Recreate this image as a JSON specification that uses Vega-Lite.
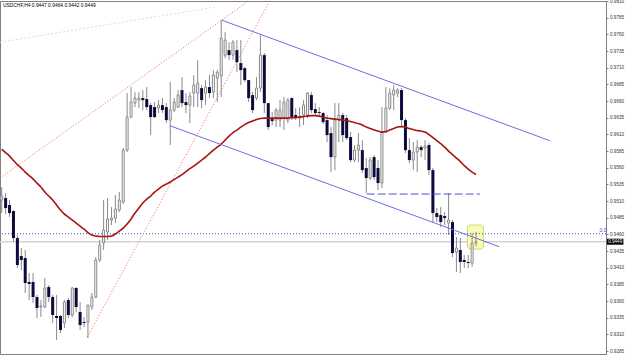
{
  "$schema": "https://vega.github.io/schema/vega-lite/v6.json",
  "width": 606,
  "height": 353,
  "autosize": {"type": "none"},
  "padding": {"left": 0, "top": 1, "right": 19, "bottom": 2},
  "background": "#ffffff",
  "config": {"view": {"stroke": "#808080", "strokeWidth": 1}, "axis": {"labelOverlap": false, "labelBound": false, "labelSeparation": 0}},
  "title": {"text": "USDCHF,H4  0.9447 0.9464 0.9442 0.9449", "anchor": "start", "frame": "group", "orient": "top", "offset": -11, "dx": 3, "dy": 2, "fontSize": 4.9, "fontWeight": "normal", "font": "Liberation Sans", "color": "#000000", "baseline": "middle"},
  "datasets": {
    "bars": [
      {"i":0,"o":0.95115,"h":0.95310,"l":0.94920,"c":0.95175,"ma":0.95880},
      {"i":1,"o":0.95145,"h":0.95220,"l":0.94905,"c":0.94995,"ma":0.958275},
      {"i":2,"o":0.95040,"h":0.95115,"l":0.94860,"c":0.94920,"ma":0.95775},
      {"i":3,"o":0.94950,"h":0.94965,"l":0.94485,"c":0.94545,"ma":0.957075},
      {"i":4,"o":0.94545,"h":0.94590,"l":0.94095,"c":0.94140,"ma":0.956475},
      {"i":5,"o":0.94275,"h":0.94395,"l":0.94065,"c":0.94215,"ma":0.95595},
      {"i":6,"o":0.94245,"h":0.94365,"l":0.93720,"c":0.93870,"ma":0.95535},
      {"i":7,"o":0.93885,"h":0.94020,"l":0.93615,"c":0.93855,"ma":0.954825},
      {"i":8,"o":0.93885,"h":0.94020,"l":0.93570,"c":0.93660,"ma":0.95430},
      {"i":9,"o":0.93660,"h":0.93690,"l":0.93345,"c":0.93495,"ma":0.95370},
      {"i":10,"o":0.93510,"h":0.93615,"l":0.93360,"c":0.93525,"ma":0.95310},
      {"i":11,"o":0.93510,"h":0.93945,"l":0.93495,"c":0.93795,"ma":0.95235},
      {"i":12,"o":0.93810,"h":0.93840,"l":0.93585,"c":0.93660,"ma":0.95175},
      {"i":13,"o":0.93660,"h":0.93690,"l":0.93270,"c":0.93390,"ma":0.95115},
      {"i":14,"o":0.93375,"h":0.93690,"l":0.93015,"c":0.93345,"ma":0.95040},
      {"i":15,"o":0.93375,"h":0.93390,"l":0.93120,"c":0.93165,"ma":0.94965},
      {"i":16,"o":0.93270,"h":0.93615,"l":0.93195,"c":0.93585,"ma":0.94905},
      {"i":17,"o":0.93615,"h":0.93645,"l":0.93345,"c":0.93390,"ma":0.94860},
      {"i":18,"o":0.93390,"h":0.93810,"l":0.93360,"c":0.93795,"ma":0.94815},
      {"i":19,"o":0.93795,"h":0.93810,"l":0.93435,"c":0.93510,"ma":0.94770},
      {"i":20,"o":0.93435,"h":0.93585,"l":0.93165,"c":0.93240,"ma":0.94725},
      {"i":21,"o":0.93285,"h":0.93360,"l":0.93210,"c":0.93270,"ma":0.94680},
      {"i":22,"o":0.93285,"h":0.93540,"l":0.93045,"c":0.93540,"ma":0.946275},
      {"i":23,"o":0.93510,"h":0.93720,"l":0.93465,"c":0.93660,"ma":0.94590},
      {"i":24,"o":0.93660,"h":0.94260,"l":0.93645,"c":0.94215,"ma":0.94575},
      {"i":25,"o":0.94215,"h":0.94515,"l":0.94185,"c":0.94440,"ma":0.945675},
      {"i":26,"o":0.94470,"h":0.95115,"l":0.94365,"c":0.94665,"ma":0.945675},
      {"i":27,"o":0.94635,"h":0.95145,"l":0.94515,"c":0.94830,"ma":0.945675},
      {"i":28,"o":0.94815,"h":0.95010,"l":0.94740,"c":0.94845,"ma":0.94575},
      {"i":29,"o":0.94845,"h":0.95190,"l":0.94770,"c":0.94980,"ma":0.94605},
      {"i":30,"o":0.94965,"h":0.95235,"l":0.94935,"c":0.95115,"ma":0.94650},
      {"i":31,"o":0.95085,"h":0.95895,"l":0.95055,"c":0.95865,"ma":0.94695},
      {"i":32,"o":0.95865,"h":0.96720,"l":0.95835,"c":0.96360,"ma":0.94755},
      {"i":33,"o":0.96360,"h":0.96810,"l":0.96345,"c":0.96585,"ma":0.94830},
      {"i":34,"o":0.96570,"h":0.96735,"l":0.96510,"c":0.96645,"ma":0.94920},
      {"i":35,"o":0.96615,"h":0.96735,"l":0.96495,"c":0.96645,"ma":0.94995},
      {"i":36,"o":0.96645,"h":0.96765,"l":0.96465,"c":0.96615,"ma":0.95070},
      {"i":37,"o":0.96630,"h":0.96810,"l":0.96465,"c":0.96510,"ma":0.95130},
      {"i":38,"o":0.96540,"h":0.96570,"l":0.96090,"c":0.96360,"ma":0.95175},
      {"i":39,"o":0.96510,"h":0.96585,"l":0.96345,"c":0.96360,"ma":0.95235},
      {"i":40,"o":0.96495,"h":0.96615,"l":0.96420,"c":0.96540,"ma":0.95280},
      {"i":41,"o":0.96540,"h":0.96645,"l":0.96420,"c":0.96465,"ma":0.95325},
      {"i":42,"o":0.96510,"h":0.96570,"l":0.96270,"c":0.96315,"ma":0.95355},
      {"i":43,"o":0.96315,"h":0.96885,"l":0.95940,"c":0.96465,"ma":0.95385},
      {"i":44,"o":0.96465,"h":0.96645,"l":0.96435,"c":0.96585,"ma":0.954225},
      {"i":45,"o":0.96510,"h":0.96765,"l":0.96495,"c":0.96690,"ma":0.95460},
      {"i":46,"o":0.96765,"h":0.96960,"l":0.96510,"c":0.96570,"ma":0.954975},
      {"i":47,"o":0.96585,"h":0.96720,"l":0.96420,"c":0.96540,"ma":0.955425},
      {"i":48,"o":0.96540,"h":0.96735,"l":0.96270,"c":0.96675,"ma":0.955875},
      {"i":49,"o":0.96720,"h":0.96990,"l":0.96510,"c":0.96840,"ma":0.95625},
      {"i":50,"o":0.96720,"h":0.97215,"l":0.96510,"c":0.96870,"ma":0.95670},
      {"i":51,"o":0.96795,"h":0.96840,"l":0.96495,"c":0.96615,"ma":0.95715},
      {"i":52,"o":0.96720,"h":0.96915,"l":0.96540,"c":0.96810,"ma":0.95760},
      {"i":53,"o":0.96810,"h":0.96990,"l":0.96645,"c":0.96720,"ma":0.958125},
      {"i":54,"o":0.96735,"h":0.97065,"l":0.96645,"c":0.96990,"ma":0.95865},
      {"i":55,"o":0.96945,"h":0.97065,"l":0.96585,"c":0.97035,"ma":0.95910},
      {"i":56,"o":0.96975,"h":0.97815,"l":0.96660,"c":0.97545,"ma":0.95955},
      {"i":57,"o":0.97290,"h":0.97635,"l":0.97245,"c":0.97515,"ma":0.96015},
      {"i":58,"o":0.97365,"h":0.97485,"l":0.97215,"c":0.97290,"ma":0.96075},
      {"i":59,"o":0.97290,"h":0.97515,"l":0.97215,"c":0.97485,"ma":0.961275},
      {"i":60,"o":0.97365,"h":0.97515,"l":0.97035,"c":0.97185,"ma":0.96165},
      {"i":61,"o":0.97170,"h":0.97515,"l":0.96840,"c":0.97065,"ma":0.96210},
      {"i":62,"o":0.97095,"h":0.97110,"l":0.96885,"c":0.96915,"ma":0.962475},
      {"i":63,"o":0.96915,"h":0.96915,"l":0.96585,"c":0.96645,"ma":0.962775},
      {"i":64,"o":0.96690,"h":0.96735,"l":0.96420,"c":0.96465,"ma":0.96300},
      {"i":65,"o":0.96645,"h":0.96960,"l":0.96615,"c":0.96795,"ma":0.963225},
      {"i":66,"o":0.96795,"h":0.97590,"l":0.96735,"c":0.97290,"ma":0.963375},
      {"i":67,"o":0.97290,"h":0.97320,"l":0.96420,"c":0.96570,"ma":0.96345},
      {"i":68,"o":0.96570,"h":0.96570,"l":0.96165,"c":0.96210,"ma":0.96345},
      {"i":69,"o":0.96330,"h":0.96435,"l":0.96240,"c":0.96300,"ma":0.96345},
      {"i":70,"o":0.96315,"h":0.96495,"l":0.96210,"c":0.96465,"ma":0.96345},
      {"i":71,"o":0.96315,"h":0.96615,"l":0.96210,"c":0.96465,"ma":0.96345},
      {"i":72,"o":0.96345,"h":0.96660,"l":0.96165,"c":0.96585,"ma":0.96345},
      {"i":73,"o":0.96315,"h":0.96645,"l":0.96270,"c":0.96615,"ma":0.96345},
      {"i":74,"o":0.96645,"h":0.96660,"l":0.96315,"c":0.96360,"ma":0.963525},
      {"i":75,"o":0.96390,"h":0.96495,"l":0.96315,"c":0.96360,"ma":0.963525},
      {"i":76,"o":0.96345,"h":0.96510,"l":0.96210,"c":0.96375,"ma":0.96360},
      {"i":77,"o":0.96390,"h":0.96615,"l":0.96240,"c":0.96540,"ma":0.963675},
      {"i":78,"o":0.96390,"h":0.96735,"l":0.96345,"c":0.96720,"ma":0.96375},
      {"i":79,"o":0.96690,"h":0.96735,"l":0.96420,"c":0.96465,"ma":0.963825},
      {"i":80,"o":0.96480,"h":0.96570,"l":0.96390,"c":0.96420,"ma":0.963825},
      {"i":81,"o":0.96435,"h":0.96510,"l":0.96360,"c":0.96420,"ma":0.96375},
      {"i":82,"o":0.96420,"h":0.96435,"l":0.96255,"c":0.96285,"ma":0.96360},
      {"i":83,"o":0.96315,"h":0.96390,"l":0.95985,"c":0.96090,"ma":0.96345},
      {"i":84,"o":0.96120,"h":0.96210,"l":0.95535,"c":0.95760,"ma":0.963375},
      {"i":85,"o":0.95760,"h":0.96570,"l":0.95565,"c":0.96315,"ma":0.96330},
      {"i":86,"o":0.96315,"h":0.96570,"l":0.95985,"c":0.96390,"ma":0.963225},
      {"i":87,"o":0.96390,"h":0.96420,"l":0.95985,"c":0.96090,"ma":0.96315},
      {"i":88,"o":0.96345,"h":0.96390,"l":0.96015,"c":0.96045,"ma":0.963075},
      {"i":89,"o":0.96060,"h":0.96135,"l":0.95685,"c":0.95715,"ma":0.962925},
      {"i":90,"o":0.95715,"h":0.95940,"l":0.95685,"c":0.95865,"ma":0.962775},
      {"i":91,"o":0.95865,"h":0.96120,"l":0.95685,"c":0.95940,"ma":0.962625},
      {"i":92,"o":0.95865,"h":0.96015,"l":0.95520,"c":0.95565,"ma":0.96240},
      {"i":93,"o":0.95595,"h":0.95745,"l":0.95220,"c":0.95445,"ma":0.96210},
      {"i":94,"o":0.95445,"h":0.95760,"l":0.95415,"c":0.95715,"ma":0.961875},
      {"i":95,"o":0.95760,"h":0.95790,"l":0.95415,"c":0.95460,"ma":0.96165},
      {"i":96,"o":0.95595,"h":0.95715,"l":0.95265,"c":0.95370,"ma":0.96150},
      {"i":97,"o":0.95370,"h":0.96510,"l":0.95295,"c":0.96135,"ma":0.96135},
      {"i":98,"o":0.96135,"h":0.96810,"l":0.96120,"c":0.96495,"ma":0.961425},
      {"i":99,"o":0.96495,"h":0.96795,"l":0.96465,"c":0.96720,"ma":0.96165},
      {"i":100,"o":0.96690,"h":0.96840,"l":0.96465,"c":0.96765,"ma":0.961875},
      {"i":101,"o":0.96720,"h":0.96795,"l":0.96660,"c":0.96765,"ma":0.96210},
      {"i":102,"o":0.96765,"h":0.96795,"l":0.96210,"c":0.96315,"ma":0.962175},
      {"i":103,"o":0.96315,"h":0.96345,"l":0.95820,"c":0.95865,"ma":0.96210},
      {"i":104,"o":0.95865,"h":0.96045,"l":0.95670,"c":0.95715,"ma":0.961875},
      {"i":105,"o":0.95715,"h":0.95985,"l":0.95565,"c":0.95835,"ma":0.961725},
      {"i":106,"o":0.95835,"h":0.96015,"l":0.95535,"c":0.95910,"ma":0.961575},
      {"i":107,"o":0.95910,"h":0.95940,"l":0.95760,"c":0.95865,"ma":0.96150},
      {"i":108,"o":0.95895,"h":0.96015,"l":0.95715,"c":0.95925,"ma":0.96135},
      {"i":109,"o":0.95940,"h":0.95970,"l":0.95490,"c":0.95565,"ma":0.960975},
      {"i":110,"o":0.95565,"h":0.95595,"l":0.94770,"c":0.94920,"ma":0.960525},
      {"i":111,"o":0.94920,"h":0.94995,"l":0.94785,"c":0.94860,"ma":0.960075},
      {"i":112,"o":0.94890,"h":0.95010,"l":0.94710,"c":0.94785,"ma":0.959625},
      {"i":113,"o":0.94875,"h":0.94935,"l":0.94740,"c":0.94845,"ma":0.95910},
      {"i":114,"o":0.94770,"h":0.95220,"l":0.94590,"c":0.94815,"ma":0.95850},
      {"i":115,"o":0.94785,"h":0.94815,"l":0.94260,"c":0.94320,"ma":0.957975},
      {"i":116,"o":0.94335,"h":0.94560,"l":0.94035,"c":0.94395,"ma":0.95745},
      {"i":117,"o":0.94365,"h":0.94545,"l":0.94020,"c":0.94185,"ma":0.956925},
      {"i":118,"o":0.94215,"h":0.94290,"l":0.94095,"c":0.94185,"ma":0.956325},
      {"i":119,"o":0.94185,"h":0.94290,"l":0.94095,"c":0.94170,"ma":0.95580},
      {"i":120,"o":0.94170,"h":0.94620,"l":0.94110,"c":0.94470,"ma":0.95535},
      {"i":121,"o":0.94470,"h":0.94640,"l":0.94420,"c":0.94490,"ma":0.954975}
    ],
    "channels": [
      {"line": "upper", "i": 56.12, "p": 0.978150},
      {"line": "upper", "i": 139.87, "p": 0.960045},
      {"line": "lower", "i": 42.93, "p": 0.962295},
      {"line": "lower", "i": 126.94, "p": 0.944145}
    ],
    "redlines": [
      {"line": "a", "i": 21.84, "p": 0.93060},
      {"line": "a", "i": 68.19, "p": 0.98085},
      {"line": "b", "i": -0.434, "p": 0.95445},
      {"line": "b", "i": 62.58, "p": 0.98085}
    ],
    "faint": [
      {"i": -0.434, "p": 0.97485},
      {"i": 54.4, "p": 0.98010}
    ]
  },
  "layer": [
    {
      "data": {"values": [{"p": 0.9449}]},
      "mark": {"type": "rule", "color": "#d4d4d4", "strokeWidth": 1.5},
      "encoding": {
        "y": {"field": "p", "type": "quantitative", "title": null, "scale": {"domain": [0.92805, 0.98102], "nice": false, "zero": false, "padding": 0},
          "axis": {"orient": "right", "title": null, "grid": false, "format": ".4f", "tickCount": 100,
            "values": [0.9285, 0.931, 0.9335, 0.936, 0.9385, 0.941, 0.9435, 0.946, 0.9485, 0.951, 0.9535, 0.956, 0.9585, 0.961, 0.9635, 0.966, 0.9685, 0.971, 0.9735, 0.976, 0.9785, 0.981],
            "labelFontSize": 4.6, "labelFont": "Liberation Sans", "labelColor": "#333333", "labelPadding": 1.5,
            "tickSize": 2, "tickColor": "#808080", "domainColor": "#808080", "labelOverlap": false, "labelFlush": false, "labelBound": false}}
      }
    },
    {
      "data": {"values": [{"i1": 118.8, "i2": 122.9, "p1": 0.94740, "p2": 0.94380}]},
      "mark": {"type": "rect", "fill": "#fbfbb8", "stroke": "#c8d878", "strokeWidth": 1, "cornerRadius": 3},
      "encoding": {
        "x": {"field": "i1", "type": "quantitative", "title": null, "scale": {"domain": [-0.434, 154.16], "nice": false, "zero": false, "padding": 0}, "axis": null},
        "x2": {"field": "i2"},
        "y": {"field": "p1", "type": "quantitative", "title": null},
        "y2": {"field": "p2"}
      }
    },
    {
      "data": {"values": [{"p": 0.9461}]},
      "mark": {"type": "rule", "color": "#4a4ad0", "strokeWidth": 1, "strokeDash": [1, 2]},
      "encoding": {
        "y": {"field": "p", "type": "quantitative", "title": null}
      }
    },
    {
      "data": {"name": "faint"},
      "mark": {"type": "line", "color": "#dcdcdc", "strokeWidth": 1, "strokeDash": [2, 2], "clip": true},
      "encoding": {
        "x": {"field": "i", "type": "quantitative", "title": null, "axis": null},
        "y": {"field": "p", "type": "quantitative", "title": null}
      }
    },
    {
      "data": {"name": "redlines"},
      "mark": {"type": "line", "color": "#ff5a5a", "strokeWidth": 1, "strokeDash": [1, 2], "clip": true},
      "encoding": {
        "x": {"field": "i", "type": "quantitative", "title": null, "axis": null},
        "y": {"field": "p", "type": "quantitative", "title": null},
        "detail": {"field": "line"}
      }
    },
    {
      "data": {"name": "bars"},
      "mark": {"type": "rule", "color": "#8a8a8a", "strokeWidth": 1},
      "encoding": {
        "x": {"field": "i", "type": "quantitative", "title": null, "axis": null},
        "y": {"field": "l", "type": "quantitative", "title": null},
        "y2": {"field": "h"}
      }
    },
    {
      "data": {"name": "bars"},
      "transform": [{"filter": "datum.c >= datum.o"}],
      "mark": {"type": "bar", "size": 2, "fill": "#ffffff", "stroke": "#8a8a8a", "strokeWidth": 1},
      "encoding": {
        "x": {"field": "i", "type": "quantitative", "title": null, "axis": null},
        "y": {"field": "o", "type": "quantitative", "title": null},
        "y2": {"field": "c"}
      }
    },
    {
      "data": {"name": "bars"},
      "transform": [{"filter": "datum.c < datum.o"}],
      "mark": {"type": "bar", "size": 3, "fill": "#0c0c3c"},
      "encoding": {
        "x": {"field": "i", "type": "quantitative", "title": null, "axis": null},
        "y": {"field": "o", "type": "quantitative", "title": null},
        "y2": {"field": "c"}
      }
    },
    {
      "data": {"name": "bars"},
      "mark": {"type": "line", "color": "#a81414", "strokeWidth": 1.6, "interpolate": "monotone"},
      "encoding": {
        "x": {"field": "i", "type": "quantitative", "title": null, "axis": null},
        "y": {"field": "ma", "type": "quantitative", "title": null}
      }
    },
    {
      "data": {"name": "channels"},
      "mark": {"type": "line", "color": "#6e6ee0", "strokeWidth": 1},
      "encoding": {
        "x": {"field": "i", "type": "quantitative", "title": null, "axis": null},
        "y": {"field": "p", "type": "quantitative", "title": null},
        "detail": {"field": "line"}
      }
    },
    {
      "data": {"values": [{"i1": 93.1, "i2": 122.0, "p": 0.95205}]},
      "mark": {"type": "rule", "color": "#5050d8", "strokeWidth": 1, "strokeDash": [8, 3]},
      "encoding": {
        "x": {"field": "i1", "type": "quantitative", "title": null, "axis": null},
        "x2": {"field": "i2"},
        "y": {"field": "p", "type": "quantitative", "title": null}
      }
    },
    {
      "data": {"values": [{"i": 153.4, "p": 0.9461, "t": "0.0"}]},
      "mark": {"type": "text", "color": "#4a4ad0", "fontSize": 5, "font": "Liberation Sans", "baseline": "bottom", "align": "center", "dy": -0.5},
      "encoding": {
        "x": {"field": "i", "type": "quantitative", "title": null, "axis": null},
        "y": {"field": "p", "type": "quantitative", "title": null},
        "text": {"field": "t"}
      }
    },
    {
      "data": {"values": [{"i1": 154.4, "i2": 158.6, "p1": 0.94535, "p2": 0.94445}]},
      "mark": {"type": "rect", "fill": "#000000"},
      "encoding": {
        "x": {"field": "i1", "type": "quantitative", "title": null, "axis": null},
        "x2": {"field": "i2"},
        "y": {"field": "p1", "type": "quantitative", "title": null},
        "y2": {"field": "p2"}
      }
    },
    {
      "data": {"values": [{"i": 156.5, "p": 0.9449, "t": "0.9449"}]},
      "mark": {"type": "text", "color": "#ffffff", "fontSize": 4.6, "font": "Liberation Sans", "baseline": "middle", "align": "center"},
      "encoding": {
        "x": {"field": "i", "type": "quantitative", "title": null, "axis": null},
        "y": {"field": "p", "type": "quantitative", "title": null},
        "text": {"field": "t"}
      }
    }
  ]
}
